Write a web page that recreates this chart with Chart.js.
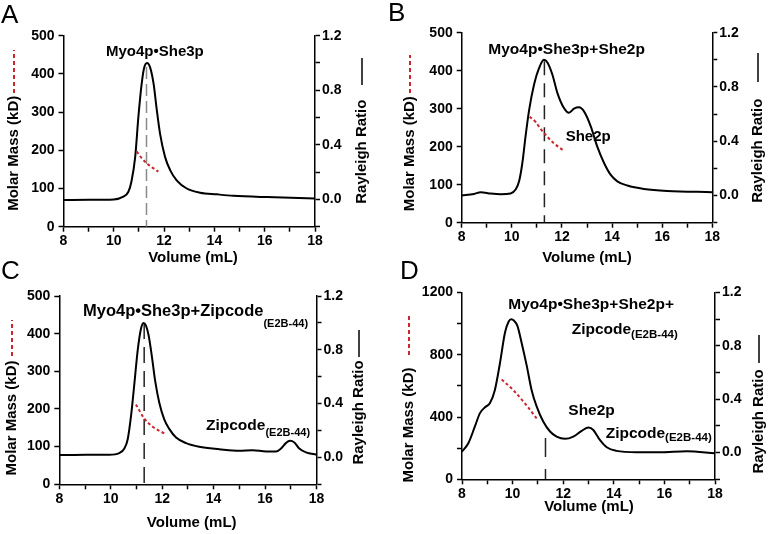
<!DOCTYPE html>
<html><head><meta charset="utf-8">
<script src="https://cdn.jsdelivr.net/npm/chart.js@4/dist/chart.umd.min.js"></script>
<style>
html,body{margin:0;padding:0;background:#fff;}
body{width:768px;height:534px;overflow:hidden;position:relative;}
canvas{position:absolute;left:0;top:0;}
</style></head>
<body>
<canvas id="cA" width="768" height="534"></canvas>
<canvas id="cB" width="768" height="534"></canvas>
<canvas id="cC" width="768" height="534"></canvas>
<canvas id="cD" width="768" height="534"></canvas>
<script>
// ---------- DATA ----------
const xTicks = [8, 10, 12, 14, 16, 18];
const rayleighTicks = [0.0, 0.4, 0.8, 1.2];
const massTicksABC = [0, 100, 200, 300, 400, 500];
const massTicksD = [0, 400, 800, 1200];

// Panel A: Myo4p•She3p
const volA = [8, 9, 10, 10.38, 10.58, 10.7, 10.85, 10.98, 11.11, 11.2, 11.32, 11.44, 11.58, 11.71, 11.84, 12.04, 12.24, 12.5, 12.9, 13.43, 14.1, 14.75, 16.08, 18];
const rayA = [-0.005, -0.003, 0.0, 0.02, 0.056, 0.13, 0.31, 0.61, 0.85, 0.96, 1.0, 0.97, 0.85, 0.655, 0.48, 0.31, 0.215, 0.14, 0.08, 0.049, 0.037, 0.027, 0.017, 0.007];
const massVolA = [10.91, 11.1, 11.31, 11.55, 11.77];
const massA = [197, 180, 166, 154, 144];

// Panel B: Myo4p•She3p+She2p
const volB = [8, 8.49, 8.76, 9.16, 9.56, 9.95, 10.15, 10.29, 10.42, 10.55, 10.69, 10.89, 11.09, 11.28, 11.42, 11.62, 11.82, 12.08, 12.28, 12.48, 12.68, 12.88, 13.15, 13.41, 13.68, 13.94, 14.21, 14.61, 15.27, 16.2, 18];
const rayB = [0.0, 0.012, 0.025, 0.015, 0.01, 0.015, 0.044, 0.105, 0.24, 0.44, 0.63, 0.82, 0.94, 1.0, 0.98, 0.89, 0.755, 0.645, 0.61, 0.64, 0.65, 0.62, 0.51, 0.36, 0.24, 0.154, 0.105, 0.074, 0.049, 0.034, 0.025];
const massVolB = [10.71, 10.95, 11.15, 11.42, 11.68, 12.08];
const massB = [279, 265, 247, 226, 209, 189];

// Panel C: Myo4p•She3p+Zipcode(E2B-44)
const volC = [8, 9.04, 9.94, 10.33, 10.53, 10.66, 10.79, 10.92, 11.05, 11.18, 11.27, 11.37, 11.47, 11.6, 11.73, 11.89, 12.08, 12.28, 12.54, 12.93, 13.44, 14.22, 15.0, 15.52, 16.04, 16.43, 16.62, 16.81, 16.97, 17.14, 17.33, 17.59, 18];
const rayC = [0.017, 0.02, 0.02, 0.032, 0.066, 0.135, 0.31, 0.55, 0.8, 0.96, 1.0, 0.98, 0.91, 0.75, 0.565, 0.405, 0.283, 0.21, 0.148, 0.106, 0.079, 0.061, 0.049, 0.054, 0.044, 0.044, 0.066, 0.106, 0.123, 0.111, 0.066, 0.037, 0.02];
const massVolC = [10.98, 11.3, 11.63, 12.08];
const massC = [212, 175, 153, 135];

// Panel D: Myo4p•She3p+She2p+Zipcode(E2B-44)
const volD = [8.0, 8.25, 8.51, 8.71, 8.91, 9.1, 9.3, 9.5, 9.7, 9.85, 9.95, 10.05, 10.19, 10.36, 10.56, 10.75, 10.95, 11.21, 11.48, 11.74, 12.07, 12.4, 12.73, 13.0, 13.19, 13.45, 13.72, 14.1, 14.9, 15.83, 16.88, 18];
const rayD = [0.008, 0.07, 0.196, 0.296, 0.34, 0.37, 0.47, 0.67, 0.9, 0.985, 1.0, 0.99, 0.95, 0.82, 0.65, 0.47, 0.346, 0.233, 0.158, 0.12, 0.103, 0.12, 0.163, 0.188, 0.17, 0.095, 0.04, 0.013, 0.0025, 0.0025, 0.01, -0.005];
const massVolD = [9.57, 10.03, 10.49, 10.95];
const massD = [641, 572, 487, 391];

// Reference elution volume marker (dashed vertical line), Rayleigh range
const markerVol = [11.3, 11.3];
const markerA = [0.97, -0.2];
const markerB = [0.99, -0.2];
const markerC = [1.0, -0.2];
const markerD = [0.11, -0.2];

// ---------- RENDER ----------
const FONT = '"Liberation Sans", Arial, Helvetica, sans-serif';
const pts = (xs, ys) => xs.map((x, i) => ({x, y: ys[i]}));
const near = (v, list) => list.some(t => Math.abs(v - t) < 1e-6);

const textPlugin = {
  id: 'panelText',
  afterDraw(chart, args, opts) {
    const ctx = chart.ctx;
    for (const t of (opts.items || [])) {
      ctx.save();
      if (t.line) {
        ctx.strokeStyle = t.color;
        ctx.lineWidth = t.width || 2;
        ctx.setLineDash(t.dash || []);
        ctx.beginPath();
        ctx.moveTo(t.line[0], t.line[1]);
        ctx.lineTo(t.line[2], t.line[3]);
        ctx.stroke();
        ctx.restore();
        continue;
      }
      ctx.translate(t.x, t.y);
      if (t.rot) ctx.rotate(t.rot);
      ctx.fillStyle = '#000';
      ctx.textBaseline = 'middle';
      ctx.font = `${t.weight || 'bold'} ${t.size}px ${FONT}`;
      ctx.textAlign = t.align || 'left';
      ctx.fillText(t.text, 0, 0);
      if (t.sub) {
        const w = ctx.measureText(t.text).width;
        ctx.font = `bold ${t.subSize}px ${FONT}`;
        ctx.textAlign = 'left';
        ctx.fillText(t.sub, w + (t.subGap || 0), t.subDy);
      }
      ctx.restore();
    }
  }
};

function makeChart(id, p) {
  const W = 768, H = 534, LW = 50, RW = 45, XH = 30;
  const a = p.area;
  const tickFont = {family: FONT, size: 14, weight: 'bold'};
  const gridCommon = {drawOnChartArea: false, drawTicks: true, tickColor: '#000', tickWidth: 1.5};
  new Chart(document.getElementById(id), {
    type: 'line',
    data: {
      datasets: [
        {data: pts(p.mvol, p.mass), yAxisID: 'yL', borderColor: '#c8282e', borderWidth: 2, borderDash: [3, 2.5], pointRadius: 0, cubicInterpolationMode: 'monotone', fill: false},
        {data: pts(p.vol, p.ray), yAxisID: 'yR', borderColor: '#000', borderWidth: 2, pointRadius: 0, cubicInterpolationMode: 'monotone', fill: false},
        {data: pts(markerVol, p.marker), yAxisID: 'yR', borderColor: p.markerColor, borderWidth: 1.5, borderDash: p.markerDash, pointRadius: 0, fill: false}
      ]
    },
    options: {
      responsive: false, animation: false, events: [],
      layout: {padding: {left: a.left - LW, right: W - a.right - RW, top: a.top, bottom: H - a.bottom - XH}},
      plugins: {legend: {display: false}, tooltip: {enabled: false}, panelText: {items: p.items}},
      scales: {
        x: {
          type: 'linear', min: 8, max: 18,
          afterFit: s => { s.height = XH; },
          afterBuildTicks: s => { s.ticks = [8,9,10,11,12,13,14,15,16,17,18].map(v => ({value: v})); },
          ticks: {font: tickFont, color: '#000', padding: 1, maxRotation: 0, autoSkip: false,
                  callback: v => near(v, xTicks) ? String(v) : ''},
          grid: {...gridCommon, tickLength: 5},
          border: {display: true, color: '#000', width: 1.5}
        },
        yL: {
          type: 'linear', position: 'left', min: 0, max: p.massMax,
          afterFit: s => { s.width = LW; },
          afterBuildTicks: s => { const r = []; for (let v = 0; v <= p.massMax + 1e-6; v += p.massStep) r.push({value: v}); s.ticks = r; },
          ticks: {font: tickFont, color: '#000', padding: 4,
                  callback: v => near(v, p.massTicks) ? String(v) : ''},
          grid: {...gridCommon, tickLength: 5},
          border: {display: true, color: '#000', width: 1.5}
        },
        yR: {
          type: 'linear', position: 'right', min: -0.2, max: 1.2,
          afterFit: s => { s.width = RW; },
          afterBuildTicks: s => { s.ticks = [-0.2, 0, 0.2, 0.4, 0.6, 0.8, 1.0, 1.2].map(v => ({value: v})); },
          ticks: {font: tickFont, color: '#000', padding: 2,
                  callback: v => near(v, rayleighTicks) ? v.toFixed(1) : ''},
          grid: {...gridCommon, tickLength: 5},
          border: {display: true, color: '#000', width: 1.5}
        }
      }
    },
    plugins: [textPlugin]
  });
}

const R90 = -Math.PI / 2;
const RED = '#c8282e';
const LEG_DASH = [4, 3];

makeChart('cA', {
  area: {left: 63.5, right: 315, top: 35.7, bottom: 226.7},
  vol: volA, ray: rayA, mvol: massVolA, mass: massA, marker: markerA,
  markerColor: '#8a8a8a', markerDash: [12, 5],
  massMax: 500, massStep: 100, massTicks: massTicksABC,
  items: [
    {text: 'A', x: 1, y: 15.5, size: 26, weight: 'normal'},
    {text: 'Myo4p•She3p', x: 106, y: 51.7, size: 15},
    {text: 'Molar Mass (kD)', x: 14, y: 153.3, size: 15, rot: R90, align: 'center'},
    {line: [14, 93, 14, 50], color: RED, dash: LEG_DASH, width: 2},
    {text: 'Rayleigh Ratio', x: 362, y: 151.7, size: 15, rot: R90, align: 'center'},
    {line: [362, 85, 362, 58], color: '#000', width: 1.5},
    {text: 'Volume (mL)', x: 193, y: 258, size: 15, align: 'center'}
  ]
});

makeChart('cB', {
  area: {left: 461.7, right: 712.3, top: 32.7, bottom: 222.7},
  vol: volB, ray: rayB, mvol: massVolB, mass: massB, marker: markerB,
  markerColor: '#222', markerDash: [14, 8],
  massMax: 500, massStep: 100, massTicks: massTicksABC,
  items: [
    {text: 'B', x: 388, y: 14, size: 26, weight: 'normal'},
    {text: 'Myo4p•She3p+She2p', x: 488.3, y: 49.3, size: 15.5},
    {text: 'She2p', x: 565.7, y: 136.7, size: 15},
    {text: 'Molar Mass (kD)', x: 410, y: 153.7, size: 15, rot: R90, align: 'center'},
    {line: [410, 93, 410, 55], color: RED, dash: LEG_DASH, width: 2},
    {text: 'Rayleigh Ratio', x: 758, y: 150.7, size: 15, rot: R90, align: 'center'},
    {line: [758, 82, 758, 53], color: '#000', width: 1.5},
    {text: 'Volume (mL)', x: 587, y: 258, size: 15, align: 'center'}
  ]
});

makeChart('cC', {
  area: {left: 59.3, right: 316.5, top: 296, bottom: 484.3},
  vol: volC, ray: rayC, mvol: massVolC, mass: massC, marker: markerC,
  markerColor: '#222', markerDash: [16, 8],
  massMax: 500, massStep: 100, massTicks: massTicksABC,
  items: [
    {text: 'C', x: 1, y: 271.7, size: 26, weight: 'normal'},
    {text: 'Myo4p•She3p+Zipcode', x: 83, y: 311.7, size: 16.5, sub: '(E2B-44)', subSize: 11, subDy: 12},
    {text: 'Zipcode', x: 206, y: 426, size: 15.5, sub: '(E2B-44)', subSize: 11, subDy: 7},
    {text: 'Molar Mass (kD)', x: 12, y: 418, size: 15, rot: R90, align: 'center'},
    {line: [12, 356, 12, 320], color: RED, dash: LEG_DASH, width: 2},
    {text: 'Rayleigh Ratio', x: 359, y: 412.5, size: 15, rot: R90, align: 'center'},
    {line: [359, 357, 359, 330], color: '#000', width: 1.5},
    {text: 'Volume (mL)', x: 191.7, y: 523, size: 15, align: 'center'}
  ]
});

makeChart('cD', {
  area: {left: 462, right: 715, top: 292.5, bottom: 479.3},
  vol: volD, ray: rayD, mvol: massVolD, mass: massD, marker: markerD,
  markerColor: '#222', markerDash: [19, 12],
  massMax: 1200, massStep: 200, massTicks: massTicksD,
  items: [
    {text: 'D', x: 400, y: 272, size: 26, weight: 'normal'},
    {text: 'Myo4p•She3p+She2p+', x: 508.3, y: 305, size: 15.5},
    {text: 'Zipcode', x: 571.7, y: 330, size: 15.5, sub: '(E2B-44)', subSize: 11.5, subDy: 5},
    {text: 'She2p', x: 568.3, y: 411, size: 15.5},
    {text: 'Zipcode', x: 605.7, y: 433.3, size: 15.5, sub: '(E2B-44)', subSize: 11.5, subDy: 5},
    {text: 'Molar Mass (kD)', x: 409, y: 425, size: 15, rot: R90, align: 'center'},
    {line: [409, 355, 409, 313], color: RED, dash: LEG_DASH, width: 2},
    {text: 'Rayleigh Ratio', x: 759, y: 421.5, size: 15, rot: R90, align: 'center'},
    {line: [759, 363, 759, 335], color: '#000', width: 1.5},
    {text: 'Volume (mL)', x: 589, y: 507, size: 15, align: 'center'}
  ]
});
</script>
</body></html>
